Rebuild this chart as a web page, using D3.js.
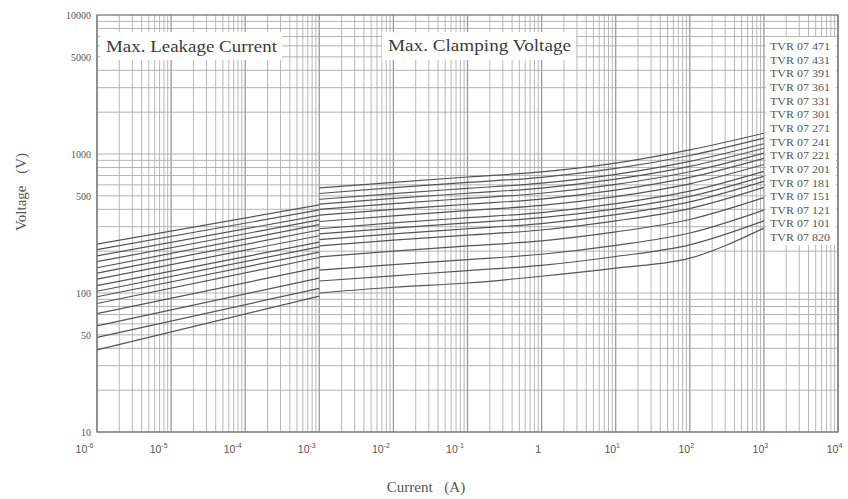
<!DOCTYPE html>
<html>
<head>
<meta charset="utf-8">
<script src="https://cdn.jsdelivr.net/npm/d3@7"></script>
<style>
  body { margin: 0; background: #fff; }
  svg { display: block; font-family: "Liberation Serif", "DejaVu Serif", serif; }
</style>
</head>
<body>
<svg id="chart" width="848" height="499"></svg>
<script>
// Current points (A) for the two regions of each curve
const leakCurrents = [1e-6, 1e-3];
const clampCurrents = [1e-3, 1e-2, 1e-1, 1, 10, 100, 1000];

// Series, top curve first
const seriesNames = [
  "TVR 07 471", "TVR 07 431", "TVR 07 391", "TVR 07 361", "TVR 07 331",
  "TVR 07 301", "TVR 07 271", "TVR 07 241", "TVR 07 221", "TVR 07 201",
  "TVR 07 181", "TVR 07 151", "TVR 07 121", "TVR 07 101", "TVR 07 820"
];

// Max. leakage current region: voltage at 1e-6 A and 1e-3 A
const leakVolts = [
  [225, 430], [205, 396], [185, 362], [168, 336], [152, 310],
  [139, 284], [126, 258], [113, 232], [103, 215], [94, 197],
  [84, 180], [71, 153], [58, 128], [48, 108], [39, 95]
];

// Max. clamping voltage region, at clampCurrents
const clampVolts = [
  [569, 625, 683, 744, 860, 1070, 1410],
  [520, 572, 624, 680, 787, 975, 1300],
  [472, 519, 566, 617, 714, 885, 1185],
  [436, 479, 522, 569, 659, 815, 1100],
  [400, 439, 479, 522, 604, 745, 1015],
  [363, 399, 435, 474, 549, 678, 930],
  [327, 359, 392, 427, 494, 610, 840],
  [290, 319, 348, 379, 439, 540, 750],
  [266, 293, 319, 348, 403, 495, 690],
  [242, 266, 290, 316, 366, 452, 635],
  [218, 240, 261, 284, 330, 405, 575],
  [182, 200, 218, 237, 275, 338, 485],
  [146, 160, 174, 190, 220, 270, 395],
  [122, 133, 145, 158, 183, 222, 330],
  [100, 110, 118, 132, 151, 178, 293]
];

const xTickExps = [-6, -5, -4, -3, -2, -1, 0, 1, 2, 3, 4];
const yTickValues = [10, 50, 100, 500, 1000, 5000, 10000];

// Layout
const plotLeft = 97, plotRight = 838, plotTop = 15, plotBottom = 432;
const svg = d3.select("#chart");

const x = d3.scaleLog().domain([1e-6, 1e4]).range([plotLeft, plotRight]);
const y = d3.scaleLog().domain([10, 10000]).range([plotBottom, plotTop]);

// log grid values
const xMinor = [], xMajor = [];
for (let e = -6; e < 4; e++) {
  xMajor.push(Math.pow(10, e));
  for (let m = 2; m <= 9; m++) xMinor.push(m * Math.pow(10, e));
}
xMajor.push(1e4);
const yMinor = [];
for (let e = 1; e < 4; e++) {
  for (let m = 1; m <= 9; m++) yMinor.push(m * Math.pow(10, e));
}

// Grid
const grid = svg.append("g");
grid.selectAll(".vmin").data(xMinor).enter().append("line")
  .attr("x1", d => x(d)).attr("x2", d => x(d))
  .attr("y1", plotTop).attr("y2", plotBottom)
  .attr("stroke", "#b8b8b8").attr("stroke-width", 1);
grid.selectAll(".vmaj").data(xMajor).enter().append("line")
  .attr("x1", d => x(d)).attr("x2", d => x(d))
  .attr("y1", plotTop).attr("y2", plotBottom)
  .attr("stroke", "#9a9a9a").attr("stroke-width", 1.3);
grid.selectAll(".hl").data(yMinor).enter().append("line")
  .attr("x1", plotLeft).attr("x2", plotRight)
  .attr("y1", d => y(d)).attr("y2", d => y(d))
  .attr("stroke", "#aaa").attr("stroke-width", 0.9);

// White boxes behind the region titles and the series labels
svg.append("rect").attr("x", 100).attr("y", 32).attr("width", 182).attr("height", 28).attr("fill", "#fff");
svg.append("rect").attr("x", 382).attr("y", 32).attr("width", 194).attr("height", 28).attr("fill", "#fff");
svg.append("rect").attr("x", 766).attr("y", 37).attr("width", 70).attr("height", 208).attr("fill", "#fff");

// Curves
const line = d3.line()
  .x(d => x(d[0]))
  .y(d => y(d[1]))
  .curve(d3.curveMonotoneX);

const curves = svg.append("g")
  .attr("fill", "none")
  .attr("stroke", "#555")
  .attr("stroke-width", 1.2);

seriesNames.forEach((name, i) => {
  curves.append("path")
    .attr("d", line(leakCurrents.map((c, j) => [c, leakVolts[i][j]])));
  curves.append("path")
    .attr("d", line(clampCurrents.map((c, j) => [c, clampVolts[i][j]])));
});

// Frame
svg.append("rect")
  .attr("x", plotLeft).attr("y", plotTop)
  .attr("width", plotRight - plotLeft).attr("height", plotBottom - plotTop)
  .attr("fill", "none").attr("stroke", "#777").attr("stroke-width", 1.3);

// Axes
const xAxis = d3.axisBottom(x)
  .tickValues(xTickExps.map(e => Math.pow(10, e)))
  .tickSize(0)
  .tickFormat("");
const gx = svg.append("g")
  .attr("transform", `translate(0,${plotBottom})`)
  .call(xAxis);
gx.select(".domain").remove();
gx.selectAll(".tick").each(function(d, i) {
  const e = xTickExps[i];
  const t = d3.select(this).append("text")
    .attr("y", 21)
    .attr("dx", e < 0 ? -13 : (e === 0 ? -4 : -4))
    .attr("fill", "#555")
    .attr("font-size", 10.5)
    .attr("text-anchor", "middle");
  if (e === 0) {
    t.text("1");
  } else {
    t.append("tspan").text("10");
    t.append("tspan").attr("dy", -5).attr("font-size", 7).text(e);
  }
});

const yAxis = d3.axisLeft(y)
  .tickValues(yTickValues)
  .tickSize(0)
  .tickFormat(d3.format("d"));
const gy = svg.append("g")
  .attr("transform", `translate(${plotLeft - 3},0)`)
  .call(yAxis);
gy.select(".domain").remove();
gy.selectAll(".tick text")
  .attr("fill", "#555")
  .attr("font-size", 10)
  .attr("font-family", "Liberation Serif, serif");

// Region titles
svg.append("text")
  .attr("x", 106).attr("y", 52)
  .attr("font-size", 17).attr("fill", "#3c3c3c")
  .attr("textLength", 171).attr("lengthAdjust", "spacingAndGlyphs")
  .text("Max. Leakage Current");
svg.append("text")
  .attr("x", 388).attr("y", 51)
  .attr("font-size", 17).attr("fill", "#3c3c3c")
  .attr("textLength", 183).attr("lengthAdjust", "spacingAndGlyphs")
  .text("Max. Clamping Voltage");

// Series labels
svg.append("g").selectAll("text")
  .data(seriesNames).enter().append("text")
  .attr("x", 770)
  .attr("y", (d, i) => 50 + i * 13.65)
  .attr("font-size", 9.5)
  .attr("fill", "#555")
  .attr("textLength", 60).attr("lengthAdjust", "spacingAndGlyphs")
  .text(d => d);

// Axis titles
svg.append("text")
  .attr("transform", "translate(26,192) rotate(-90)")
  .attr("text-anchor", "middle")
  .attr("font-size", 15).attr("fill", "#555")
  .attr("word-spacing", 8)
  .text("Voltage (V)");
svg.append("text")
  .attr("x", 426).attr("y", 492)
  .attr("text-anchor", "middle")
  .attr("font-size", 15).attr("fill", "#555")
  .attr("word-spacing", 8)
  .text("Current (A)");
</script>
</body>
</html>
